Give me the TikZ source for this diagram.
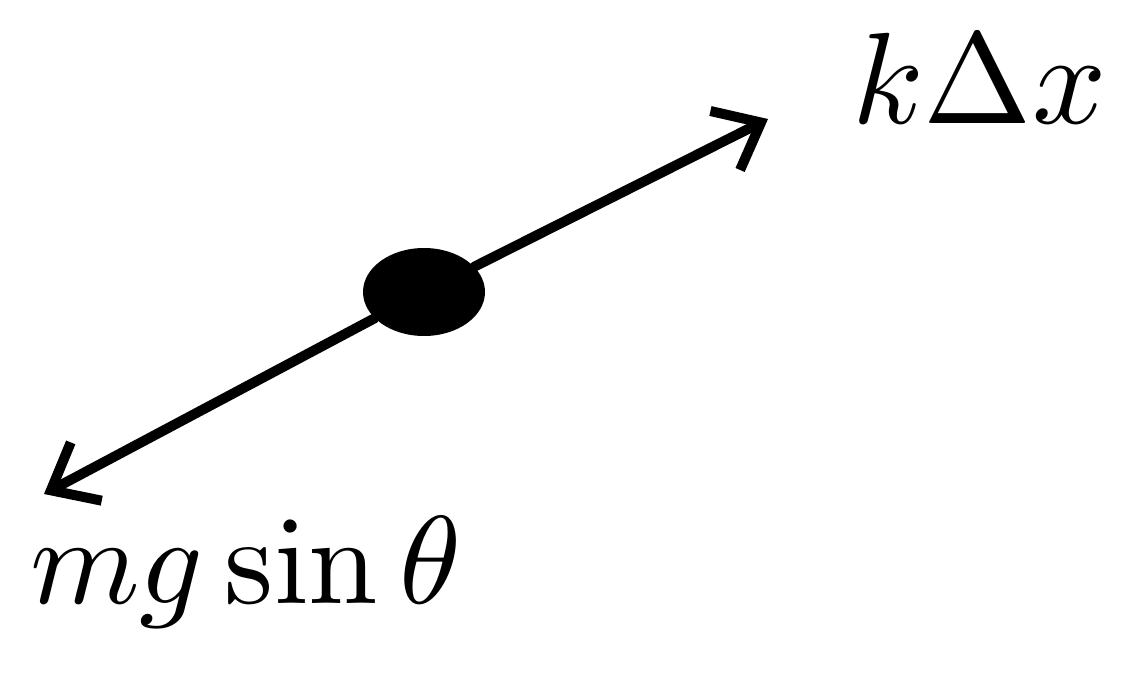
\documentclass[tikz,border=0pt]{standalone}
\usepackage{graphicx}
\usetikzlibrary{arrows.meta,shapes.geometric}
\begin{document}
\begin{tikzpicture}[x=1pt,y=-1pt,
  force/.style={line width=10pt, line cap=round, -{Straight Barb[length=40pt,width=66pt,line width=10pt]}},
  mass/.style={ellipse, fill=black, minimum width=122pt, minimum height=88pt, inner sep=0pt},
  lbl/.style={inner sep=0pt}]
\useasboundingbox (0,0) rectangle (1124,679);
\node[mass] (m) at (424,292) {};
\coordinate (up) at (768,119);
\coordinate (down) at (44,494);
\draw[force] (m) -- (up);
\draw[force] (m) -- (down);
\node[lbl, anchor=base west] (k) at (852,124) {\scalebox{13}{$k\Delta x$}};
\node[lbl, anchor=base west] (g) at (30,603) {\scalebox{12.5}{$mg\sin\theta$}};
\end{tikzpicture}
\end{document}
